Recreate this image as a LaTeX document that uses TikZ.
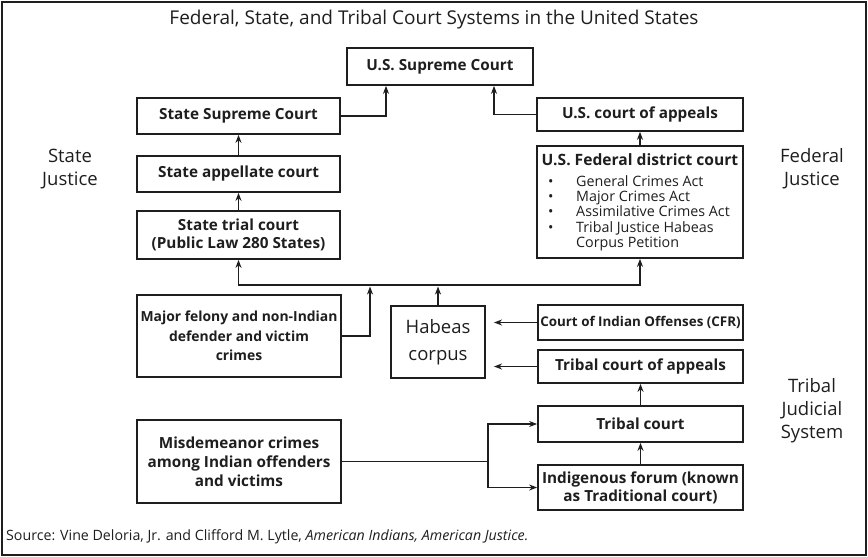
\documentclass[tikz,border=0pt]{standalone}
\usepackage{fontspec}
\setmainfont{Open Sans}
\usetikzlibrary{arrows.meta}
\definecolor{ink}{HTML}{1E1E1E}
\tikzset{
  box/.style={draw=ink, line width=1.7pt, inner sep=2pt, align=center, text=ink,
              font=\fontsize{15.3}{19}\selectfont\bfseries},
  arr/.style={draw=ink, line width=1.5pt, -{Stealth[length=8pt,width=6pt,inset=2.5pt]}},
  line/.style={draw=ink, line width=1.5pt},
  side/.style={align=center, text=ink, font=\fontsize{18.5}{23}\selectfont},
}
\begin{document}
\begin{tikzpicture}[x=1pt,y=-1pt]
\useasboundingbox (0,0) rectangle (868,557);
\draw[draw=ink, line width=1.8pt] (2,2) rectangle (866,555);
\node[text=ink, font=\fontsize{19}{22}\selectfont] (title) at (434,20) {Federal, State, and Tribal Court Systems in the United States};

% boxes
\node[box, minimum width=186pt, minimum height=37pt] (sup) at (440,66.5) {U.S. Supreme Court};
\node[box, minimum width=203pt, minimum height=36pt] (ssup) at (238.5,116) {State Supreme Court};
\node[box, minimum width=206pt, minimum height=33pt] (app) at (640,114.5) {U.S. court of appeals};
\node[box, minimum width=203pt, minimum height=36pt] (sapp) at (238.5,174) {State appellate court};
\node[box, minimum width=206pt, minimum height=112pt] (fed) at (640,202) {};
\node[text=ink, font=\fontsize{15.6}{18}\selectfont\bfseries] (fedt) at (640,160) {U.S. Federal district court};
\node[text=ink, anchor=north west, inner sep=0pt, font=\fontsize{14.3}{15.2}\selectfont] (fedl) at (548,175)
  {\begin{tabular}{@{}p{28pt}@{}l@{}}
   \textbullet & General Crimes Act\\
   \textbullet & Major Crimes Act\\
   \textbullet & Assimilative Crimes Act\\
   \textbullet & Tribal Justice Habeas\\
               & Corpus Petition
   \end{tabular}};
\node[box, minimum width=203pt, minimum height=48pt, font=\fontsize{15.3}{18}\selectfont\bfseries] (strial) at (238.5,235) {State trial court\\(Public Law 280 States)};
\node[box, minimum width=204pt, minimum height=82pt, font=\fontsize{13.9}{19.5}\selectfont\bfseries] (felony) at (239,336) {Major felony and non-Indian\\defender and victim\\crimes};
\node[box, minimum width=94pt, minimum height=72pt, font=\fontsize{18.5}{27}\selectfont] (habeas) at (438,342) {Habeas\\corpus};
\node[box, minimum width=205pt, minimum height=35pt, font=\fontsize{13.4}{18}\selectfont\bfseries] (cfr) at (640.5,322.5) {Court of Indian Offenses (CFR)};
\node[box, minimum width=205pt, minimum height=33pt] (tapp) at (640.5,366.5) {Tribal court of appeals};
\node[box, minimum width=205pt, minimum height=36pt] (tribal) at (640.5,424) {Tribal court};
\node[box, minimum width=205pt, minimum height=45pt, font=\fontsize{15.3}{18}\selectfont\bfseries] (indig) at (640.5,487.5) {Indigenous forum (known\\as Traditional court)};
\node[box, minimum width=204pt, minimum height=83pt] (misd) at (239,461.5) {Misdemeanor crimes\\among Indian offenders\\and victims};

% side labels
\node[side] (stj) at (70,169) {State\\Justice};
\node[side] (fdj) at (812,169) {Federal\\Justice};
\node[side] (trj) at (812,411) {Tribal\\Judicial\\System};

% source
\node[anchor=west, inner sep=0pt, text=ink, font=\fontsize{14.2}{16}\selectfont] (src) at (6,537)
  {Source: Vine Deloria, Jr. and Clifford M. Lytle, \textit{American Indians, American Justice.}};

% connectors
\draw[arr] (ssup.east) -| ([xshift=-54pt]sup.south);
\draw[arr] (app.west) -| ([xshift=54pt]sup.south);
\draw[arr] (sapp.north) -- (ssup.south);
\draw[arr] (strial.north) -- (sapp.south);
\draw[arr] (fed.north) -- (app.south);
\coordinate (bus) at (440,285);
\draw[arr] (bus) -| (strial.south);
\draw[arr] (bus) -| (fed.south);
\coordinate (felend) at (370,286.5);
\draw[arr] (felony.east) -| (felend);
\draw[arr] (habeas.north) -- (habeas.north |- felend);
\coordinate (cfrend) at (494,322.5);
\coordinate (tappend) at (494,366.5);
\draw[arr] (cfr.west) -- (cfrend);
\draw[arr] (tapp.west) -- (tappend);
\draw[arr] (tribal.north) -- (tapp.south);
\draw[arr] (indig.north) -- (tribal.south);
\coordinate (split) at (488,461.5);
\draw[line] (misd.east) -- (split);
\draw[arr] (split) |- (tribal.west);
\draw[arr] (split) |- (indig.west);
\end{tikzpicture}
\end{document}
